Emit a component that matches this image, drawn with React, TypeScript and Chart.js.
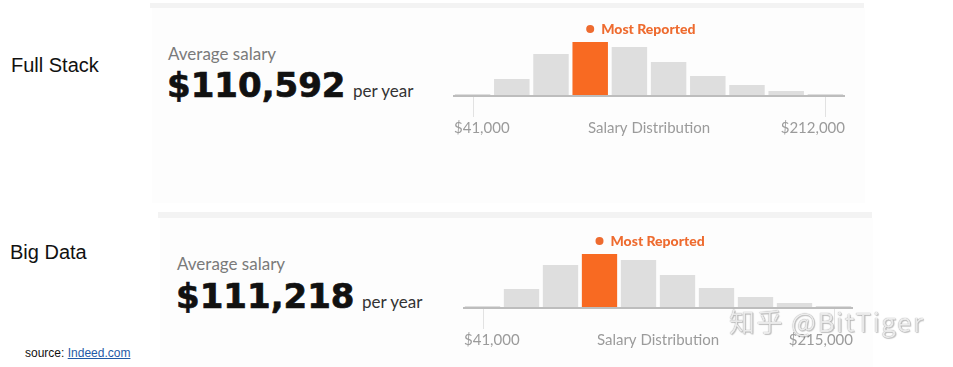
import React, { useEffect, useRef } from "react";
import { Chart, registerables } from "chart.js";

Chart.register(...registerables);

// ---- data ----
const ROLE_NAMES = ["Full Stack", "Big Data"];
const AVG_SALARIES = ["$110,592", "$111,218"];
const BIN_LABELS = ["1", "2", "3", "4", "5", "6", "7", "8", "9", "10"];
const FULL_STACK_DIST = [2, 17, 42, 54, 49, 34, 20, 11, 5, 2];
const BIG_DATA_DIST = [2, 19, 43, 54, 48, 33, 20, 11, 5, 2];
const MIN_LABELS = ["$41,000", "$41,000"];
const MAX_LABELS = ["$212,000", "$215,000"];
const AXIS_TITLE = "Salary Distribution";
const PEAK_LABEL = "Most Reported";

const ORANGE = "#F86A22";
const ORANGE_TEXT = "#EE6B2F";
const GREY_BAR = "#DEDEDE";

function Histogram(props: {
  values: number[];
  minLabel: string;
  maxLabel: string;
  left: number;
  top: number;
  width: number;
  height: number;
}) {
  const ref = useRef<HTMLCanvasElement | null>(null);
  useEffect(() => {
    const canvas = ref.current;
    if (!canvas) return;
    const values = props.values;
    const maxIdx = values.indexOf(Math.max(...values));
    const decor = {
      id: "decor",
      afterDatasetsDraw(chart: any) {
        const ctx = chart.ctx;
        const area = chart.chartArea;
        const xs = chart.scales.x;
        const ys = chart.scales.y;
        const base = ys.getPixelForValue(0);
        ctx.save();
        // ticks
        ctx.strokeStyle = "#E2E2E2";
        ctx.lineWidth = 1;
        [0, values.length - 1].forEach((i) => {
          const x = Math.round(xs.getPixelForValue(i)) + 0.5;
          ctx.beginPath();
          ctx.moveTo(x, base);
          ctx.lineTo(x, base + 21);
          ctx.stroke();
        });
        // baseline
        ctx.strokeStyle = "#BDBDBD";
        ctx.lineWidth = 2;
        ctx.beginPath();
        ctx.moveTo(area.left, base);
        ctx.lineTo(area.right, base);
        ctx.stroke();
        // labels
        ctx.fillStyle = "#9B9B9B";
        ctx.font = "15px Lato";
        ctx.textBaseline = "alphabetic";
        const ly = base + 37;
        ctx.textAlign = "left";
        ctx.fillText(props.minLabel, area.left + 1, ly);
        ctx.textAlign = "center";
        ctx.fillText(AXIS_TITLE, (area.left + area.right) / 2, ly);
        ctx.textAlign = "right";
        ctx.fillText(props.maxLabel, area.right, ly);
        // peak annotation
        const bar = chart.getDatasetMeta(0).data[maxIdx];
        ctx.fillStyle = ORANGE_TEXT;
        ctx.beginPath();
        ctx.arc(bar.x, bar.y - 13, 4, 0, Math.PI * 2);
        ctx.fill();
        ctx.font = "900 14px Lato";
        ctx.textAlign = "left";
        ctx.fillText(PEAK_LABEL, bar.x + 11, bar.y - 8.5);
        ctx.restore();
      },
    };
    const chart = new Chart(canvas, {
      type: "bar",
      data: {
        labels: BIN_LABELS,
        datasets: [
          {
            data: values,
            backgroundColor: values.map((_, i) => (i === maxIdx ? ORANGE : GREY_BAR)),
            borderWidth: 0,
            barPercentage: 1,
            categoryPercentage: 0.905,
          },
        ],
      },
      options: {
        animation: false,
        responsive: false,
        devicePixelRatio: 1,
        layout: { padding: { top: 20, bottom: 44, left: 0, right: 0 } },
        plugins: { legend: { display: false }, tooltip: { enabled: false } },
        scales: {
          x: { display: false },
          y: { display: false, min: 0, max: 60 },
        },
      },
      plugins: [decor],
    });
    return () => chart.destroy();
  }, []);
  return (
    <canvas
      ref={ref}
      width={props.width}
      height={props.height}
      style={{
        position: "absolute",
        left: props.left,
        top: props.top,
        width: props.width,
        height: props.height,
      }}
    />
  );
}

const abs = (extra: React.CSSProperties): React.CSSProperties => ({
  position: "absolute",
  whiteSpace: "nowrap",
  lineHeight: 1,
  margin: 0,
  ...extra,
});

const bigNum: React.CSSProperties = {
  fontFamily: "'DejaVu Sans'",
  fontWeight: 700,
  fontSize: 34,
  color: "#111",
  WebkitTextStroke: "0.7px #111",
};

export default function App() {
  return (
    <div
      style={{
        position: "fixed",
        left: 0,
        top: 0,
        width: 953,
        height: 367,
        background: "#fff",
        overflow: "hidden",
      }}
    >
      {/* panels */}
      <div style={abs({ left: 152, top: 8, width: 713, height: 195, background: "#FDFDFD" })} />
      <div style={abs({ left: 150, top: 3, width: 714, height: 5, background: "#F3F3F3" })} />
      <div style={abs({ left: 160, top: 218, width: 713, height: 149, background: "#FDFDFD" })} />
      <div style={abs({ left: 158, top: 212, width: 714, height: 6, background: "#F3F3F3" })} />

      {/* left labels */}
      <div style={abs({ left: 11, top: 55, fontFamily: "'Liberation Sans', Arial", fontSize: 20, color: "#111" })}>
        {ROLE_NAMES[0]}
      </div>
      <div style={abs({ left: 10, top: 242, fontFamily: "'Liberation Sans', Arial", fontSize: 20, color: "#111" })}>
        {ROLE_NAMES[1]}
      </div>

      {/* panel 1 text */}
      <div style={abs({ left: 168, top: 44.5, fontFamily: "Lato", fontSize: 17, color: "#7A7A7A" })}>
        Average salary
      </div>
      <div style={abs({ left: 167, top: 68, ...bigNum })}>{AVG_SALARIES[0]}</div>
      <div style={abs({ left: 353, top: 82, fontFamily: "Lato", fontSize: 17, color: "#333" })}>per year</div>

      {/* panel 2 text */}
      <div style={abs({ left: 177, top: 255, fontFamily: "Lato", fontSize: 17, color: "#7A7A7A" })}>
        Average salary
      </div>
      <div style={abs({ left: 176, top: 279, ...bigNum })}>{AVG_SALARIES[1]}</div>
      <div style={abs({ left: 362, top: 293, fontFamily: "Lato", fontSize: 17, color: "#333" })}>per year</div>

      <Histogram values={FULL_STACK_DIST} minLabel={MIN_LABELS[0]} maxLabel={MAX_LABELS[0]} left={453} top={16} width={392} height={124} />
      <Histogram values={BIG_DATA_DIST} minLabel={MIN_LABELS[1]} maxLabel={MAX_LABELS[1]} left={463} top={228} width={390} height={124} />

      {/* source */}
      <div style={abs({ left: 25, top: 346.5, fontFamily: "'Liberation Sans', Arial", fontSize: 12, color: "#111" })}>
        source:{" "}
        <span style={{ color: "#1F5AA6", textDecoration: "underline" }}>Indeed.com</span>
      </div>

      {/* watermark */}
      <div
        style={abs({
          left: 729,
          top: 308,
          fontFamily: "'Noto Sans CJK SC'",
          fontSize: 26,
          letterSpacing: 1.5,
          color: "rgba(255,255,255,0.85)",
          textShadow: "0 0 1px rgba(0,0,0,0.55), 1px 1px 1px rgba(0,0,0,0.2)",
          zIndex: 5,
        })}
      >
        知乎 @BitTiger
      </div>
    </div>
  );
}
